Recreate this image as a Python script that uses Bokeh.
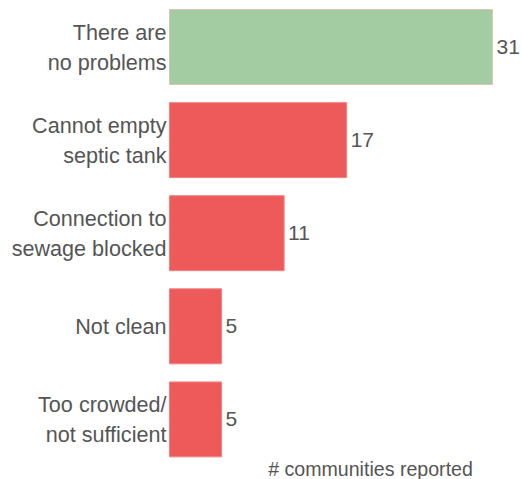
from bokeh.plotting import figure
from bokeh.models import ColumnDataSource, Range1d, Label
from bokeh.core.properties import value
from bokeh.embed import file_html
from bokeh.resources import INLINE

categories = ["There are\nno problems", "Cannot empty\nseptic tank", "Connection to\nsewage blocked",
              "Not clean", "Too crowded/\nnot sufficient"]
counts = [31, 17, 11, 5, 5]
colors = ["#a3cca3", "#ee5a5a", "#ee5a5a", "#ee5a5a", "#ee5a5a"]
borders = ["#d8c8b0", "#f08080", "#f08080", "#f08080", "#f08080"]
xlabel = "# communities reported"

n = len(categories)
ypos = [n - i for i in range(n)]
src = ColumnDataSource(dict(y=ypos, cat=categories, v=counts, vs=[str(c) for c in counts],
                            fill=colors, line=borders))

W, H = 522, 479
left = 169
px_per_unit = 10.42
band = 93.1
top_val = n + 46.5 / band

p = figure(width=W, height=H, output_backend="svg", toolbar_location=None,
           x_range=Range1d(-left / px_per_unit, (W - left) / px_per_unit),
           y_range=Range1d(top_val - H / band, top_val),
           min_border_left=0, min_border_right=0, min_border_top=0, min_border_bottom=0)
p.axis.visible = False
p.grid.visible = False
p.outline_line_color = None
p.background_fill_color = "white"
p.border_fill_color = "white"

p.hbar(y="y", left=0, right="v", height=0.805, fill_color="fill", line_color="line",
       line_width=1, source=src)

p.text(x=0, y="y", text="cat", x_offset=-3, text_align="right", text_baseline="middle",
       text_font=value("Liberation Sans"), text_font_size="21.6px", text_color="#555555",
       text_line_height=1.2, source=src)
p.text(x="v", y="y", text="vs", x_offset=4, text_align="left", text_baseline="middle",
       text_font=value("Liberation Sans"), text_font_size="21px", text_color="#555555",
       source=src)

p.add_layout(Label(x=370, y=11, x_units="screen", y_units="screen", text=xlabel,
                   text_align="center", text_baseline="middle",
                   text_font="Liberation Sans", text_font_size="19.6px", text_color="#555555"))

open("out.html", "w").write(file_html(p, INLINE))
